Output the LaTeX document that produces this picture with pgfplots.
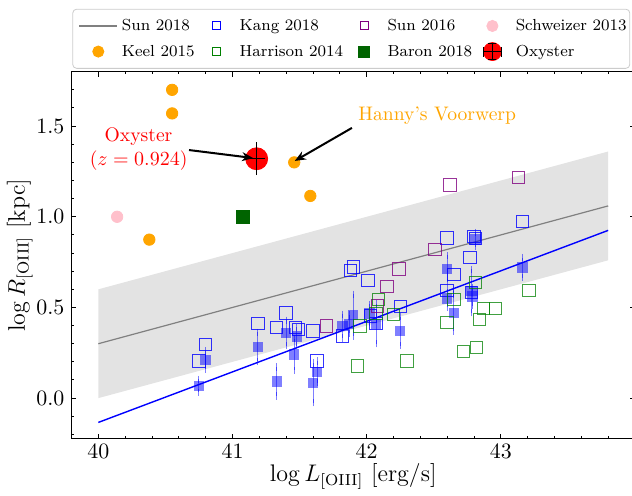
\documentclass[border=0pt]{standalone}
\usepackage{pgfplots}
\pgfplotsset{compat=1.18}
\usetikzlibrary{arrows.meta}
\definecolor{mplblue}{HTML}{0000FF}
\definecolor{mplorange}{HTML}{FFA500}
\definecolor{mplgreen}{HTML}{008000}
\definecolor{mplpurple}{HTML}{800080}
\definecolor{mplpink}{HTML}{FFC0CB}
\definecolor{mpldgreen}{HTML}{006400}
\definecolor{bandgray}{HTML}{E3E3E3}
\definecolor{linegray}{HTML}{808080}
\pgfplotsset{
 lineimg/.style={legend image code/.code={\draw[##1] (0pt,0pt) -- (19pt,0pt);}},
 mkimg/.style={legend image code/.code={\draw[opacity=0] (0pt,0pt) -- (19pt,0pt); \draw[mark repeat=2, mark phase=2, ##1] plot coordinates {(0pt,0pt) (9.5pt,0pt) (19pt,0pt)};}},
 oxyimg/.style={legend image code/.code={\draw[opacity=0] (0pt,0pt) -- (19pt,0pt);
   \fill[red] (9.5pt,0pt) circle (4.5pt);
   \draw[black, line width=0.6pt] (5pt,0pt) -- (14pt,0pt) (5pt,-2.5pt) -- (5pt,2.5pt) (14pt,-2.5pt) -- (14pt,2.5pt) (9.5pt,-4pt) -- (9.5pt,4pt) (7.5pt,-4pt) -- (11.5pt,-4pt) (7.5pt,4pt) -- (11.5pt,4pt);}},
}
\newcommand{\lA}[1]{\makebox[35.5pt][l]{#1}}
\newcommand{\lB}[1]{\makebox[50.5pt][l]{#1}}
\newcommand{\lC}[1]{\makebox[40.75pt][l]{#1}}
\newcommand{\lD}[1]{\makebox[52pt][l]{#1}}
\begin{document}
\begin{tikzpicture}
\begin{axis}[name=ax, scale only axis, width=281.75pt, height=183.6pt,
 xmin=39.8, xmax=44, ymin=-0.225, ymax=1.8,
 clip marker paths=true,
 xtick={40,41,42,43}, ytick={0,0.5,1,1.5},
 minor xtick={39.8,40,...,44}, minor ytick={-0.2,-0.1,...,1.8},
 tick align=inside, major tick length=2.4pt, minor tick length=1.3pt,
 every tick/.style={black, line width=0.5pt},
 axis line style={line width=0.5pt},
 yticklabel style={/pgf/number format/fixed, /pgf/number format/fixed zerofill, /pgf/number format/precision=1},
 ticklabel style={font=\fontsize{11}{13}\selectfont},
 xticklabel style={yshift=1pt},
 xlabel={$\log L_{[\mathrm{OIII}]}$ [erg/s]},
 ylabel={$\log R_{[\mathrm{OIII}]}$ [kpc]},
 xlabel shift=-4pt, ylabel shift=-5pt,
 label style={font=\fontsize{12}{14}\selectfont},
 legend columns=4,
 legend cell align=left,
 legend style={at={(0.5,1.008)}, anchor=south, xshift=-1pt, draw=black!20, rounded corners=2pt,
   font=\fontsize{8}{10}\selectfont, inner xsep=3pt, inner ysep=2pt, row sep=0pt, column sep=0pt,
   nodes={inner sep=2pt, text height=0.68em, text depth=0.2em}},
]
% Sun 2018 band and relation
\addplot[fill=bandgray, draw=none, forget plot] coordinates {(40,0) (43.8,0.76) (43.8,1.36) (40,0.6) (40,0)};
\addplot[linegray, line width=0.6pt, forget plot] coordinates {(40,0.30) (43.8,1.06)};
\addplot[mplblue, line width=0.7pt, forget plot] coordinates {(40,-0.134) (43.8,0.925)};
% Kang 2018 filled with errors
\addplot[only marks, mark=square*, mark size=2.6pt, mark options={draw=mplblue, fill=mplblue, fill opacity=0.5, draw opacity=0}, forget plot,
  error bars/.cd, y dir=both, y explicit, error bar style={mplblue, opacity=0.5, line width=0.5pt},
  error mark options={mplblue, opacity=0.5, line width=0.5pt, mark size=1.8pt}]
 table[x=x, y=y, y error=e] {
x y e
40.75 0.068 0.035
40.80 0.21 0.05
41.19 0.282 0.08
41.33 0.092 0.08
41.40 0.36 0.07
41.46 0.24 0.087
41.48 0.34 0.05
41.60 0.084 0.11
41.63 0.145 0.06
41.82 0.397 0.065
41.87 0.408 0.05
41.90 0.458 0.115
42.02 0.467 0.05
42.07 0.41 0.11
42.25 0.37 0.08
42.60 0.713 0.074
42.60 0.55 0.05
42.65 0.47 0.10
42.78 0.59 0.12
42.79 0.56 0.05
42.81 0.874 0.04
43.16 0.72 0.055
};
% Kang 2018 open
\addplot[mplblue, only marks, mark=square, mark size=3.1pt, mark options={draw=mplblue, draw opacity=0.8, line width=0.5pt}, forget plot]
 table[x=x, y=y] {
x y
40.75 0.205
40.80 0.297
41.19 0.41
41.33 0.39
41.40 0.47
41.47 0.39
41.49 0.38
41.60 0.37
41.63 0.205
41.82 0.342
41.88 0.705
41.90 0.724
42.01 0.647
42.03 0.452
42.07 0.41
42.25 0.504
42.60 0.883
42.80 0.89
42.81 0.88
42.77 0.775
42.65 0.683
43.16 0.974
42.60 0.593
42.78 0.584
};
% Sun 2016
\addplot[mplpurple, only marks, mark=square, mark size=3.1pt, mark options={draw=mplpurple, draw opacity=0.8, line width=0.5pt}, forget plot]
 table[x=x, y=y] {
x y
41.70 0.397
42.08 0.507
42.15 0.614
42.24 0.712
42.51 0.82
42.62 1.176
43.13 1.216
};
% Harrison 2014
\addplot[mplgreen, only marks, mark=square, mark size=3.1pt, mark options={draw=mplgreen, draw opacity=0.75, line width=0.5pt}, forget plot]
 table[x=x, y=y] {
x y
41.93 0.177
41.95 0.397
42.07 0.465
42.09 0.544
42.20 0.46
42.30 0.205
42.60 0.416
42.65 0.544
42.72 0.257
42.81 0.636
42.82 0.28
42.84 0.434
42.87 0.493
42.96 0.493
43.21 0.593
};
% Keel 2015
\addplot[mplorange, only marks, mark=*, mark size=2.85pt, mark options={draw=mplorange, fill=mplorange}, forget plot]
 coordinates {(40.38,0.874) (40.55,1.57) (40.55,1.70) (41.46,1.30) (41.58,1.115)};
% Schweizer 2013
\addplot[mplpink, only marks, mark=*, mark size=2.85pt, mark options={draw=mplpink, fill=mplpink}, forget plot]
 coordinates {(40.14,1.00)};
% Baron 2018
\addplot[mpldgreen, only marks, mark=square*, mark size=3.2pt, mark options={draw=mpldgreen, fill=mpldgreen}, forget plot]
 coordinates {(41.08,1.00)};
% Oxyster
\addplot[red, only marks, mark=*, mark size=5.5pt, mark options={draw=red, fill=red}, forget plot]
 coordinates {(41.18,1.32)};
\addplot[black, only marks, mark=*, mark size=0.01pt, mark options={draw opacity=0, fill opacity=0}, forget plot,
  error bars/.cd, x dir=both, x explicit, y dir=both, y explicit,
  error bar style={draw=black, line width=0.6pt}, error mark options={draw=black, line width=0.6pt, mark size=2.3pt}]
 coordinates {(41.18,1.32) +- (0.03,0.065)};
% annotations
\draw[line width=1pt, -{Stealth[length=5.5pt, width=4.5pt]}] (axis cs:40.676,1.368) -- (axis cs:41.153,1.324);
\draw[line width=1pt, -{Stealth[length=5.5pt, width=4.5pt]}] (axis cs:41.89,1.49) -- (axis cs:41.464,1.308);
\node[red, font=\fontsize{9.8}{12}\selectfont, align=center] at (axis cs:40.30,1.372) {Oxyster\\($z=0.924$)};
\node[mplorange, font=\fontsize{9.8}{12}\selectfont] at (axis cs:42.526,1.555) {Hanny's Voorwerp};
% legend
\addlegendimage{linegray, line width=0.6pt, lineimg}
\addlegendentry{\lA{Sun 2018}}
\addlegendimage{mplblue, only marks, mark=square, mark size=2pt, mark options={draw=mplblue, line width=0.5pt}, mkimg}
\addlegendentry{\lB{Kang 2018}}
\addlegendimage{mplpurple, only marks, mark=square, mark size=2pt, mark options={draw=mplpurple, line width=0.5pt}, mkimg}
\addlegendentry{\lC{Sun 2016}}
\addlegendimage{mplpink, only marks, mark=*, mark size=2.8pt, mark options={draw=mplpink, fill=mplpink}, mkimg}
\addlegendentry{\lD{Schweizer 2013}}
\addlegendimage{mplorange, only marks, mark=*, mark size=2.8pt, mark options={draw=mplorange, fill=mplorange}, mkimg}
\addlegendentry{\lA{Keel 2015}}
\addlegendimage{mplgreen, only marks, mark=square, mark size=2pt, mark options={draw=mplgreen, line width=0.5pt}, mkimg}
\addlegendentry{\lB{Harrison 2014}}
\addlegendimage{mpldgreen, only marks, mark=square*, mark size=2.7pt, mark options={draw=mpldgreen, fill=mpldgreen}, mkimg}
\addlegendentry{\lC{Baron 2018}}
\addlegendimage{oxyimg}
\addlegendentry{\lD{Oxyster}}
\end{axis}
\pgfresetboundingbox
\path ([shift={(-35.75pt,-28.1pt)}]ax.south west) rectangle ([shift={(-1.5pt,35.85pt)}]ax.north east);
\end{tikzpicture}
\end{document}
